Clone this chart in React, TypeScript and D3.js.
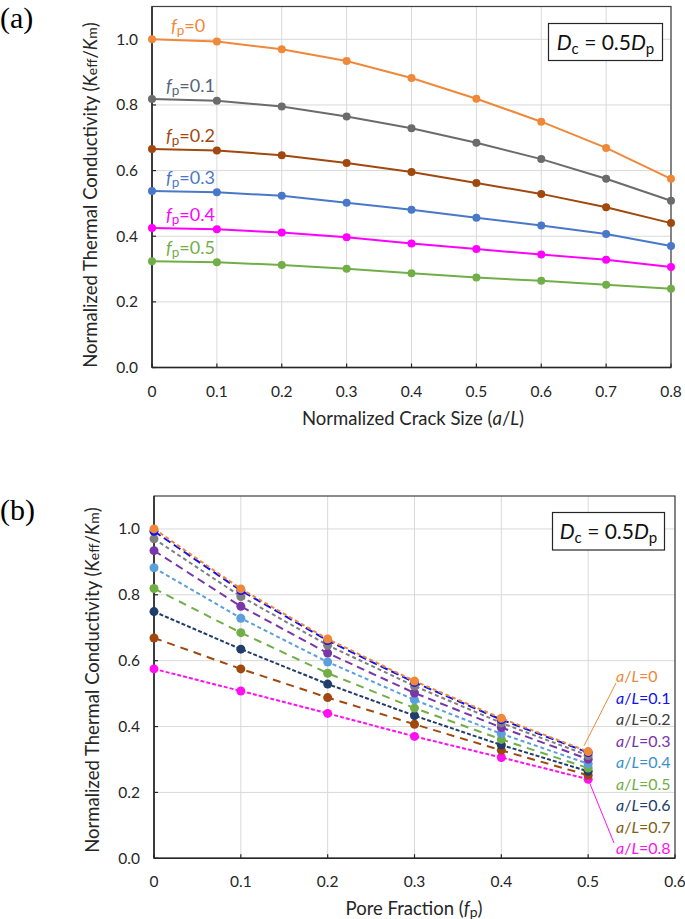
import React from "react";
import * as d3 from "d3";

// Crack sizes (a/L) and pore fractions (fp)
const crackSizes = [0, 0.1, 0.2, 0.3, 0.4, 0.5, 0.6, 0.7, 0.8];
const poreFractions = [0, 0.1, 0.2, 0.3, 0.4, 0.5];

// Normalized thermal conductivity per pore fraction (rows) vs crack size (columns)
const kFp0 = [1.0, 0.993, 0.97, 0.934, 0.882, 0.819, 0.749, 0.669, 0.575];
const kFp01 = [0.818, 0.813, 0.795, 0.765, 0.729, 0.685, 0.635, 0.575, 0.508];
const kFp02 = [0.666, 0.661, 0.647, 0.623, 0.596, 0.562, 0.529, 0.488, 0.44];
const kFp03 = [0.538, 0.534, 0.523, 0.502, 0.481, 0.456, 0.433, 0.407, 0.37];
const kFp04 = [0.425, 0.421, 0.411, 0.397, 0.378, 0.361, 0.344, 0.328, 0.306];
const kFp05 = [0.324, 0.321, 0.312, 0.301, 0.287, 0.274, 0.264, 0.252, 0.24];
const kRows = [kFp0, kFp01, kFp02, kFp03, kFp04, kFp05];

const fpColors = ["#F0883A", "#6B6B6B", "#A0480E", "#4A78C8", "#FF00FF", "#72AE48"];
const fpLabelColors = ["#F0883A", "#56657A", "#A0480E", "#4A78C8", "#FF00FF", "#72AE48"];
const fpLabels = ["0", "0.1", "0.2", "0.3", "0.4", "0.5"];

const alColors = ["#F0883A", "#1010F0", "#7F7F7F", "#7A35A8", "#5B9FDB", "#72AE48", "#203D6B", "#A0480E", "#FF10F0"];
const alLabelColors = ["#F0883A", "#1010F0", "#404040", "#7A35A8", "#3A8FCF", "#72AE48", "#203D6B", "#806010", "#FF10F0"];
const alDashes = ["4,3", "8,4", "4,3", "8,5", "4,3", "8,6", "4,2", "8,6", "4,2"];
const alLabels = ["0", "0.1", "0.2", "0.3", "0.4", "0.5", "0.6", "0.7", "0.8"];

const xTicksA = [0, 0.1, 0.2, 0.3, 0.4, 0.5, 0.6, 0.7, 0.8];
const xTicksB = [0, 0.1, 0.2, 0.3, 0.4, 0.5, 0.6];
const yTicks = [0, 0.2, 0.4, 0.6, 0.8, 1.0];
const yGrid = [0, 0.2, 0.4, 0.6, 0.8, 1.0];

const FONT = "Lato, 'Open Sans', sans-serif";

function YTitle({ x, y }: { x: number; y: number }) {
  return (
    <text transform={`translate(${x},${y}) rotate(-90)`} textAnchor="middle" fontSize={18.5} fill="#262626" fontFamily={FONT}>
      Normalized Thermal Conductivity (<tspan fontStyle="italic">K</tspan>
      <tspan fontSize={14}>eff</tspan>
      <tspan>/</tspan>
      <tspan fontStyle="italic">K</tspan>
      <tspan fontSize={14}>m</tspan>
      <tspan>)</tspan>
    </text>
  );
}

function DBox({ x0, y0, x1, y1 }: { x0: number; y0: number; x1: number; y1: number }) {
  return (
    <g>
      <rect x={x0} y={y0} width={x1 - x0} height={y1 - y0} fill="#fff" stroke="#262626" strokeWidth={1.2} />
      <text x={(x0 + x1) / 2} y={y1 - 11} textAnchor="middle" fontSize={21} fill="#111" fontFamily={FONT}>
        <tspan fontStyle="italic">D</tspan>
        <tspan fontSize={15} dy={4}>c</tspan>
        <tspan dy={-4}> = 0.5</tspan>
        <tspan fontStyle="italic">D</tspan>
        <tspan fontSize={15} dy={4}>p</tspan>
      </text>
    </g>
  );
}

function Frame({
  x, y, xTicks, fmt,
}: {
  x: d3.ScaleLinear<number, number>;
  y: d3.ScaleLinear<number, number>;
  xTicks: number[];
  fmt: (v: number) => string;
}) {
  const [x0, x1] = x.range();
  const [y0, y1] = y.range();
  return (
    <g>
      {xTicks.map((t) => (
        <line key={"gx" + t} x1={x(t)} x2={x(t)} y1={y0} y2={y1} stroke="#D9D9D9" strokeWidth={1} />
      ))}
      {yGrid.map((t) => (
        <line key={"gy" + t} x1={x0} x2={x1} y1={y(t)} y2={y(t)} stroke="#D9D9D9" strokeWidth={1} />
      ))}
      <rect x={x0} y={y1} width={x1 - x0} height={y0 - y1} fill="none" stroke="#404040" strokeWidth={1.2} />
      <line x1={x0} x2={x1} y1={y0} y2={y0} stroke="#262626" strokeWidth={1.5} />
      <line x1={x0} x2={x0} y1={y0} y2={y1} stroke="#262626" strokeWidth={1.5} />
      {xTicks.map((t) => (
        <g key={"tx" + t}>
          <line x1={x(t)} x2={x(t)} y1={y0} y2={y0 - 4} stroke="#262626" strokeWidth={1.2} />
          <text x={x(t)} y={y0 + 29} textAnchor="middle" fontSize={15.5} fill="#262626" fontFamily={FONT}>
            {fmt(t)}
          </text>
        </g>
      ))}
      {yTicks.map((t) => (
        <g key={"ty" + t}>
          <line x1={x0} x2={x0 + 4} y1={y(t)} y2={y(t)} stroke="#262626" strokeWidth={1.2} />
          <text x={x0 - 14} y={y(t) + 5.5} textAnchor="end" fontSize={15.5} fill="#262626" fontFamily={FONT}>
            {t.toFixed(1)}
          </text>
        </g>
      ))}
    </g>
  );
}

export default function App() {
  // Panel (a)
  const xA = d3.scaleLinear().domain([0, 0.8]).range([152, 671]);
  const yA = d3.scaleLinear().domain([0, 1.1]).range([367.5, 6.5]);
  const lineA = d3
    .line<number>()
    .x((_, i) => xA(crackSizes[i]))
    .y((v) => yA(v));

  // Panel (b)
  const xB = d3.scaleLinear().domain([0, 0.6]).range([154, 675]);
  const yB = d3.scaleLinear().domain([0, 1.1]).range([858.3, 496]);
  const seriesB = crackSizes.map((_, j) => kRows.map((row) => row[j]));
  const lineB = d3
    .line<number>()
    .x((_, i) => xB(poreFractions[i]))
    .y((v) => yB(v));

  const fmtX = (v: number) => (v === 0 ? "0" : v.toFixed(1));

  return (
    <svg width={685} height={919} viewBox="0 0 685 919" style={{ position: "absolute", left: 0, top: 0, background: "#fff" }}>
      <rect width={685} height={919} fill="#fff" />
      {/* Panel (a) */}
      <text x={0} y={28} fontSize={30} fontFamily="'Liberation Serif', 'Times New Roman', serif" fill="#000">(a)</text>
      <Frame x={xA} y={yA} xTicks={xTicksA} fmt={fmtX} />
      {kRows.map((row, i) => (
        <g key={"a" + i}>
          <path d={lineA(row) || ""} fill="none" stroke={fpColors[i]} strokeWidth={2} />
          {row.map((v, k) => (
            <circle key={k} cx={xA(crackSizes[k])} cy={yA(v)} r={4} fill={fpColors[i]} />
          ))}
          <text x={i === 0 ? 171 : 166} y={yA(row[0]) - 7} fontSize={18} fill={fpLabelColors[i]} fontFamily={FONT}>
            <tspan fontStyle="italic">f</tspan>
            <tspan fontSize={13.5} dy={3}>p</tspan>
            <tspan dy={-3}>={fpLabels[i]}</tspan>
          </text>
        </g>
      ))}
      <DBox x0={548.5} y0={23.5} x1={662.5} y1={60.5} />
      <YTitle x={97} y={195} />
      <text x={413} y={425} textAnchor="middle" fontSize={18.5} fill="#262626" fontFamily={FONT}>
        Normalized Crack Size (<tspan fontStyle="italic">a</tspan>/<tspan fontStyle="italic">L</tspan>)
      </text>

      {/* Panel (b) */}
      <text x={0} y={520} fontSize={30} fontFamily="'Liberation Serif', 'Times New Roman', serif" fill="#000">(b)</text>
      <Frame x={xB} y={yB} xTicks={xTicksB} fmt={fmtX} />
      {seriesB
        .map((s, j) => ({ s, j }))
        .reverse()
        .map(({ s, j }) => (
          <g key={"b" + j}>
            <path d={lineB(s) || ""} fill="none" stroke={alColors[j]} strokeWidth={2} strokeDasharray={alDashes[j]} />
            {s.map((v, k) => (
              <circle key={k} cx={xB(poreFractions[k])} cy={yB(v)} r={4.5} fill={alColors[j]} />
            ))}
          </g>
        ))}
      <line x1={xB(0.5) - 4} y1={yB(kRows[5][0]) - 6} x2={616} y2={683} stroke="#F0883A" strokeWidth={1} />
      <line x1={xB(0.5)} y1={yB(kRows[5][8])} x2={614} y2={843} stroke="#FF10F0" strokeWidth={1} />
      {alLabels.map((l, j) => (
        <text key={"lb" + j} x={616} y={682 + j * 21.5} fontSize={16} fill={alLabelColors[j]} fontFamily={FONT}>
          <tspan fontStyle="italic">a</tspan>/<tspan fontStyle="italic">L</tspan>={l}
        </text>
      ))}
      <DBox x0={552.5} y0={512.5} x1={664.5} y1={550} />
      <YTitle x={99} y={680} />
      <text x={414} y={915} textAnchor="middle" fontSize={18.5} fill="#262626" fontFamily={FONT}>
        Pore Fraction (<tspan fontStyle="italic">f</tspan>
        <tspan fontSize={14} dy={2}>p</tspan>
        <tspan dy={-2}>)</tspan>
      </text>
    </svg>
  );
}
